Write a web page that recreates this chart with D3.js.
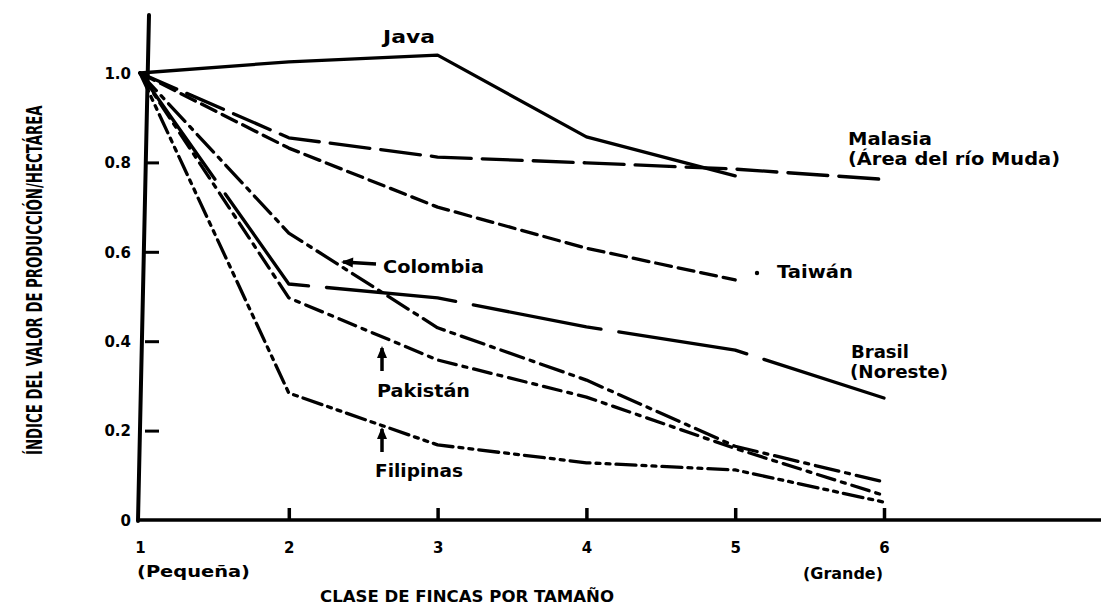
<!DOCTYPE html>
<html><head><meta charset="utf-8">
<script src="https://cdn.jsdelivr.net/npm/d3@7"></script>
<style>
body{margin:0;background:#fff;}
svg{display:block;}
text{font-family:"DejaVu Sans","Liberation Sans",sans-serif;font-weight:bold;fill:#000;}
</style></head>
<body><svg id="c" width="1101" height="608"></svg>
<script>
const classes = [1, 2, 3, 4, 5, 6];
const java      = [1.0, 1.025, 1.04, 0.857, 0.77];
const malasia   = [1.0, 0.855, 0.812, 0.799, 0.785, 0.762];
const taiwan    = [1.0, 0.832, 0.70, 0.608, 0.537];
const colombia  = [1.0, 0.642, 0.43, 0.313, 0.165, 0.085];
const brasil    = [1.0, 0.528, 0.497, 0.432, 0.38, 0.273];
const pakistan  = [1.0, 0.497, 0.358, 0.275, 0.16, 0.055];
const filipinas = [1.0, 0.284, 0.168, 0.128, 0.112, 0.04];
const yTicks = [0, 0.2, 0.4, 0.6, 0.8, 1.0];
const yTickLabels = ["0", "0.2", "0.4", "0.6", "0.8", "1.0"];
const xTickLabels = ["1", "2", "3", "4", "5", "6"];

const svg = d3.select("#c");
const x = d3.scaleLinear().domain([1, 6]).range([140, 884]);
const y = d3.scaleLinear().domain([0, 1]).range([520, 73]);

// axes lines
svg.append("line").attr("x1", 138).attr("y1", y(0) + 1).attr("x2", 149).attr("y2", 15)
  .attr("stroke", "#000").attr("stroke-width", 4).attr("stroke-linecap", "round");
svg.append("line").attr("x1", 137).attr("y1", y(0)).attr("x2", 1101).attr("y2", y(0))
  .attr("stroke", "#000").attr("stroke-width", 3.5);

// y axis ticks
const yAxis = d3.axisLeft(y).tickValues(yTicks).tickSizeInner(-14).tickSizeOuter(0).tickPadding(10)
  .tickFormat((d, i) => yTickLabels[i]);
const gy = svg.append("g").attr("transform", "translate(145,0)").call(yAxis);
gy.select(".domain").remove();
gy.selectAll(".tick line").attr("stroke", "#000").attr("stroke-width", 3)
  .attr("x1", 0).attr("opacity", d => (d === 0 || d === 1) ? 0 : 1);
gy.selectAll(".tick text").attr("font-size", 15).attr("font-family", "DejaVu Sans").attr("font-weight", "bold")
  .attr("x", -14).attr("dy", "0.35em");

// x axis ticks
const xAxis = d3.axisBottom(x).tickValues(classes).tickSizeInner(-12).tickSizeOuter(0).tickPadding(22)
  .tickFormat((d, i) => xTickLabels[i]);
const gx = svg.append("g").attr("transform", `translate(0,${y(0)})`).call(xAxis);
gx.select(".domain").remove();
gx.selectAll(".tick line").attr("stroke", "#000").attr("stroke-width", 3.5)
  .attr("opacity", d => d === 1 ? 0 : 1);
gx.selectAll(".tick text").attr("font-size", 15).attr("font-family", "DejaVu Sans").attr("font-weight", "bold");

// series
const line = d3.line().x((d, i) => x(classes[i])).y(d => y(d));
const series = [
  {v: java, dash: null},
  {v: malasia, dash: "40,11"},
  {v: taiwan, dash: "16,7"},
  {v: brasil, dash: "130,18"},
  {v: colombia, dash: "24,7,4,7"},
  {v: pakistan, dash: "18,7,4,7"},
  {v: filipinas, dash: "20,6,4,6,4,6"}
];
series.forEach(s => {
  svg.append("path").attr("d", line(s.v)).attr("fill", "none").attr("stroke", "#000")
    .attr("stroke-width", 3.3).attr("stroke-linejoin", "round").attr("stroke-linecap", "round")
    .attr("stroke-dasharray", s.dash);
});

// labels
function lab(t, xx, yy, w, fs) {
  const el = svg.append("text").attr("x", xx).attr("y", yy).attr("font-size", fs || 17).text(t);
  if (w) el.attr("textLength", w).attr("lengthAdjust", "spacingAndGlyphs");
  return el;
}
lab("Java", 383, 43, 52);
lab("Malasia", 848, 145, 84);
lab("(Área del río Muda)", 848, 165, 212);
lab("Taiwán", 777, 278, 76);
lab("Brasil", 851, 358, 58);
lab("(Noreste)", 850, 378, 98);
lab("Colombia", 383, 273, 101);
lab("Pakistán", 377, 397, 93);
lab("Filipinas", 375, 477, 88);
svg.append("circle").attr("cx", 757).attr("cy", 273).attr("r", 2.2).attr("fill", "#000");

// arrows
function arrow(x1, y1, x2, y2) {
  svg.append("line").attr("x1", x1).attr("y1", y1).attr("x2", x2).attr("y2", y2)
    .attr("stroke", "#000").attr("stroke-width", 3.5);
  const a = Math.atan2(y2 - y1, x2 - x1), L = 10, W = 5;
  const bx = x2 - L * Math.cos(a), by = y2 - L * Math.sin(a);
  const px = -Math.sin(a) * W, py = Math.cos(a) * W;
  svg.append("path").attr("d", `M${x2 + 2*Math.cos(a)},${y2 + 2*Math.sin(a)}L${bx + px},${by + py}L${bx - px},${by - py}Z`).attr("fill", "#000");
}
arrow(376, 264, 343, 262);
arrow(382, 371, 382, 348);
arrow(382, 452, 382, 429);

// x labels
lab("(Pequeña)", 137, 577, 113, 16);
lab("(Grande)", 803, 579, 80, 16);
lab("CLASE DE FINCAS POR TAMAÑO", 320, 602, 294, 15);

// y title (scaled horizontally to fit)
const yt = svg.append("text").attr("x", 0).attr("y", 0)
  .attr("font-size", 22).attr("font-family", "Liberation Sans Narrow, Liberation Sans, sans-serif")
  .text("ÍNDICE DEL VALOR DE PRODUCCIÓN/HECTÁREA");
const natural = yt.node().getComputedTextLength();
const sx = 350 / natural;
yt.attr("transform", `translate(42,455) rotate(-90) scale(${sx},1)`);
</script></body></html>
